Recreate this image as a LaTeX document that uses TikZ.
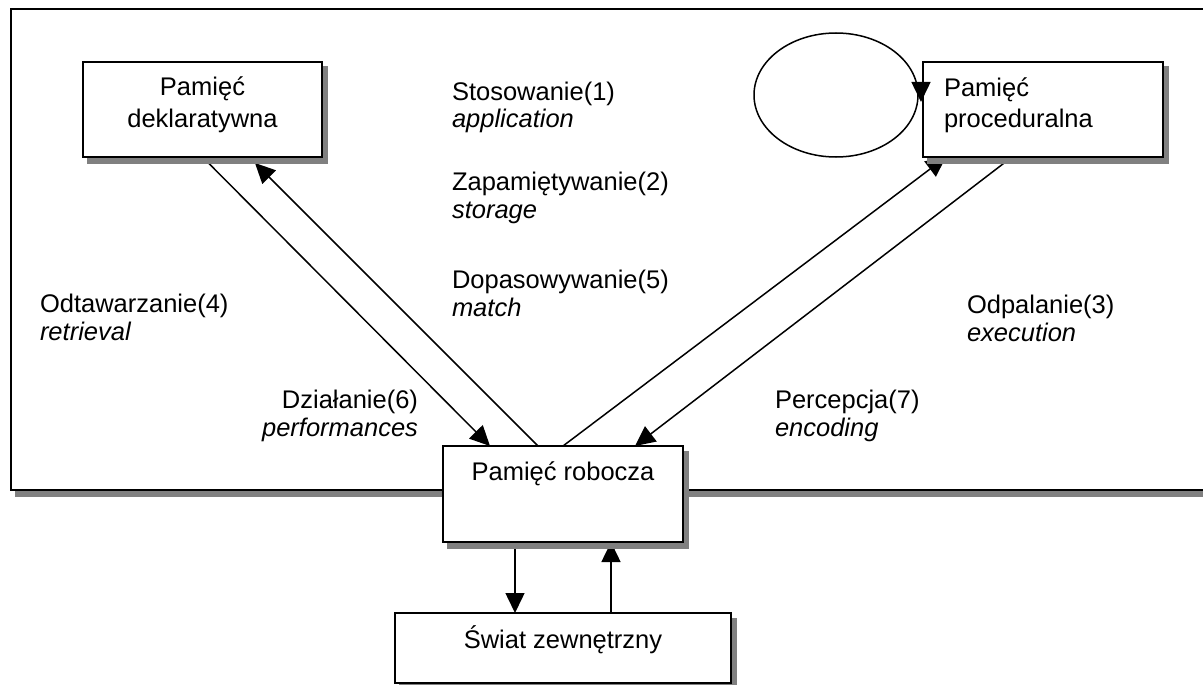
\documentclass[tikz,border=0pt]{standalone}
\usepackage{fontspec}
\setmainfont{Liberation Sans}
\usetikzlibrary{arrows.meta,shapes.geometric,shadows}
\pgfdeclarelayer{frame}
\pgfdeclarelayer{lines}
\pgfsetlayers{frame,lines,main}
\begin{document}
\begin{tikzpicture}[x=1pt,y=-1pt,
  every node/.style={font=\fontsize{25.5}{28}\selectfont},
  box/.style={rectangle,draw,line width=2pt,fill=white,inner sep=0pt,outer sep=0pt,
    drop shadow={shadow xshift=5pt,shadow yshift=-5.5pt,opacity=1,fill=black!50,draw=black!50}},
  txt/.style={inner sep=0pt,outer sep=0pt},
  con/.style={line width=1.5pt,-{Triangle[length=20pt,width=19pt]}},
  ]
\useasboundingbox (0,0) rectangle (1203,685);
\clip (0,0) rectangle (1203,685);

% outer frame (its right side runs off the page)
\begin{pgfonlayer}{frame}
  \node[box,minimum width=1220pt,minimum height=481pt] (frame) at (621,249.5) {};
\end{pgfonlayer}

% memory boxes
\node[box,minimum width=239pt,minimum height=95pt] (dekl) at (202.5,109.5) {};
\node[txt,anchor=base] (dekl1) at (202.5,95.5) {Pamięć};
\node[txt,anchor=base] (dekl2) at (202.5,127.5) {deklaratywna};

\node[box,minimum width=240pt,minimum height=95pt] (proc) at (1043,109.5) {};
\node[txt,anchor=base west] (proc1) at (944,96) {Pamięć};
\node[txt,anchor=base west] (proc2) at (944,127.5) {proceduralna};

\node[box,minimum width=240pt,minimum height=96pt] (rob) at (563,494) {};
\node[txt,anchor=base] (rob1) at (563,480) {Pamięć robocza};

\node[box,minimum width=336pt,minimum height=70pt] (swiat) at (563,648) {};
\node[txt,anchor=base] (swiat1) at (563,648) {Świat zewnętrzny};

% production cycle loop
\node[ellipse,draw,line width=1.5pt,minimum width=164pt,minimum height=124pt,
  inner sep=0pt,outer sep=0pt] (ell) at (836,95) {};

% process labels
\node[txt,anchor=base west] (l1a) at (452,100) {Stosowanie(1)};
\node[txt,anchor=base west] (l1b) at (452,128) {\itshape application};
\node[txt,anchor=base west] (l2a) at (452,190) {Zapamiętywanie(2)};
\node[txt,anchor=base west] (l2b) at (452,218) {\itshape storage};
\node[txt,anchor=base west] (l5a) at (452,288) {Dopasowywanie(5)};
\node[txt,anchor=base west] (l5b) at (452,316) {\itshape match};
\node[txt,anchor=base west] (l4a) at (40,312) {Odtawarzanie(4)};
\node[txt,anchor=base west] (l4b) at (40,340) {\itshape retrieval};
\node[txt,anchor=base west] (l3a) at (967,313) {Odpalanie(3)};
\node[txt,anchor=base west] (l3b) at (967,341) {\itshape execution};
\node[txt,anchor=base east] (l6a) at (418,408) {Działanie(6)};
\node[txt,anchor=base east] (l6b) at (418,436) {\itshape performances};
\node[txt,anchor=base west] (l7a) at (775,408) {Percepcja(7)};
\node[txt,anchor=base west] (l7b) at (775,436) {\itshape encoding};

% connectors between the memories
\begin{pgfonlayer}{lines}
  \draw[con] (dekl.south) -- ([xshift=47pt]rob.north west);
  \draw[con] ([xshift=95pt]rob.north west) -- ([xshift=172pt,yshift=-6pt]dekl.south west);
  \draw[con] ([xshift=120pt]rob.north west) -- ([xshift=23pt]proc.south west);
  \draw[con] ([xshift=89pt]proc.south west) -- ([xshift=192pt]rob.north west);
  \draw[con] ([xshift=-48pt]rob.south) -- ([xshift=-48pt]rob.south |- swiat.north);
  \draw[con] ([xshift=48pt]rob.south |- swiat.north) -- ([xshift=48pt]rob.south);
\end{pgfonlayer}

% arrow closing the loop at the procedural memory
\draw[con] ([xshift=3pt,yshift=13pt]ell.east) -- ([xshift=3pt,yshift=-7pt]ell.east);
\end{tikzpicture}
\end{document}
